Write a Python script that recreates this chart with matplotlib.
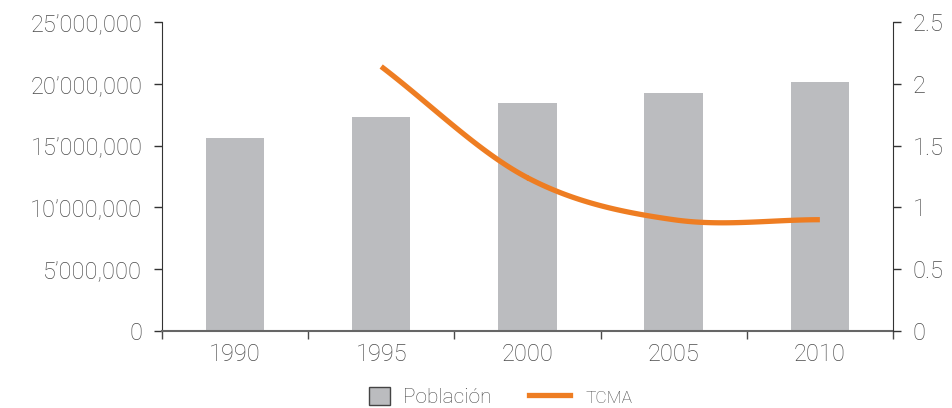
import numpy as np
import matplotlib
matplotlib.use("Agg")
import matplotlib.pyplot as plt
from matplotlib.ticker import FuncFormatter
from matplotlib.patches import Patch
from matplotlib.lines import Line2D

plt.rcParams['font.family'] = ['Roboto', 'DejaVu Sans']

years = ['1990', '1995', '2000', '2005', '2010']
poblacion = [15580000, 17300000, 18430000, 19250000, 20150000]
tcma_years = ['1995', '2000', '2005', '2010']
tcma = [2.14, 1.24, 0.90, 0.90]

bar_color = '#BBBCBF'
line_color = '#EE7D22'
text_color = '#4a4a4a'


def smooth(xs, ys, n=40):
    # Catmull-Rom curve, like the smoothed line option in spreadsheets
    xs = np.asarray(xs, float)
    ys = np.asarray(ys, float)
    px = np.concatenate([[2 * xs[0] - xs[1]], xs, [2 * xs[-1] - xs[-2]]])
    py = np.concatenate([[2 * ys[0] - ys[1]], ys, [2 * ys[-1] - ys[-2]]])
    outx, outy = [], []
    for i in range(1, len(px) - 2):
        t = np.linspace(0, 1, n)
        for p, out in ((px, outx), (py, outy)):
            p0, p1, p2, p3 = p[i - 1], p[i], p[i + 1], p[i + 2]
            out.extend(0.5 * (2 * p1 + (-p0 + p2) * t
                              + (2 * p0 - 5 * p1 + 4 * p2 - p3) * t ** 2
                              + (-p0 + 3 * p1 - 3 * p2 + p3) * t ** 3))
    return np.array(outx), np.array(outy)


fig = plt.figure(figsize=(9.52, 4.08), dpi=100)
ax = fig.add_axes([0.170, 0.189, 0.768, 0.757])
ax2 = ax.twinx()

x = np.arange(len(years))
ax.bar(x, poblacion, width=0.4, color=bar_color, zorder=2)

lx = [years.index(y) for y in tcma_years]
sx, sy = smooth(lx, tcma)
ax2.plot(sx, sy, color=line_color, lw=3.8, solid_capstyle='butt', zorder=3)

ax.set_xlim(-0.5, len(years) - 0.5)
ax.set_ylim(0, 25000000)
ax.set_yticks(np.arange(0, 25000001, 5000000))
ax.yaxis.set_major_formatter(FuncFormatter(
    lambda v, p: '0' if v == 0 else f'{int(v):,}'.replace(',', '\u2019', 1)))
ax2.set_ylim(0, 2.5)
ax2.set_yticks([0, 0.5, 1, 1.5, 2, 2.5])
ax2.set_yticklabels(['0', '0.5', '1', '1.5', '2', '2.5'])

ax.set_xticks(x)
ax.set_xticklabels(years)
ax.set_xticks(np.arange(-0.5, len(years), 1), minor=True)
ax.tick_params(axis='x', which='major', length=0, pad=9)
ax.tick_params(axis='x', which='minor', length=6, color=text_color, width=1)

for a in (ax, ax2):
    a.spines['top'].set_visible(False)
    a.tick_params(axis='y', length=6, width=1, color='#333333')
    a.tick_params(labelsize=17, labelcolor=text_color)
    for lab in a.get_xticklabels() + a.get_yticklabels():
        lab.set_fontweight('light')
ax.tick_params(axis='y', pad=8)
ax2.tick_params(axis='y', pad=8)
ax.spines['left'].set_color('#333333')
ax2.spines['right'].set_color('#333333')
ax.spines['bottom'].set_color('#666666')
ax.spines['bottom'].set_linewidth(1.5)
ax2.spines['bottom'].set_visible(False)
ax2.spines['left'].set_visible(False)
ax.spines['right'].set_visible(False)

handles = [Patch(facecolor=bar_color, edgecolor='#444444', lw=1),
           Line2D([0], [0], color=line_color, lw=3.8)]
leg = fig.legend(handles, ['Población', 'TCMA'], loc='center',
                 bbox_to_anchor=(0.526, 0.027), ncol=2, frameon=False,
                 handlelength=1.0, handleheight=1.0, columnspacing=2.9,
                 handletextpad=0.6,
                 prop={'size': 15, 'weight': 'light'})
lh = leg.legend_handles[1]
xd = np.asarray(lh.get_xdata(), float)
yd = np.asarray(lh.get_ydata(), float)
w = xd.max() - xd.min()
lh.set_data([xd.min() - 1.1 * w, xd.max() - 0.1 * w], [yd[0], yd[0]])
leg.get_texts()[1].set_fontsize(12.5)
for t in leg.get_texts():
    t.set_color(text_color)

fig.savefig('out.png', dpi=100)
